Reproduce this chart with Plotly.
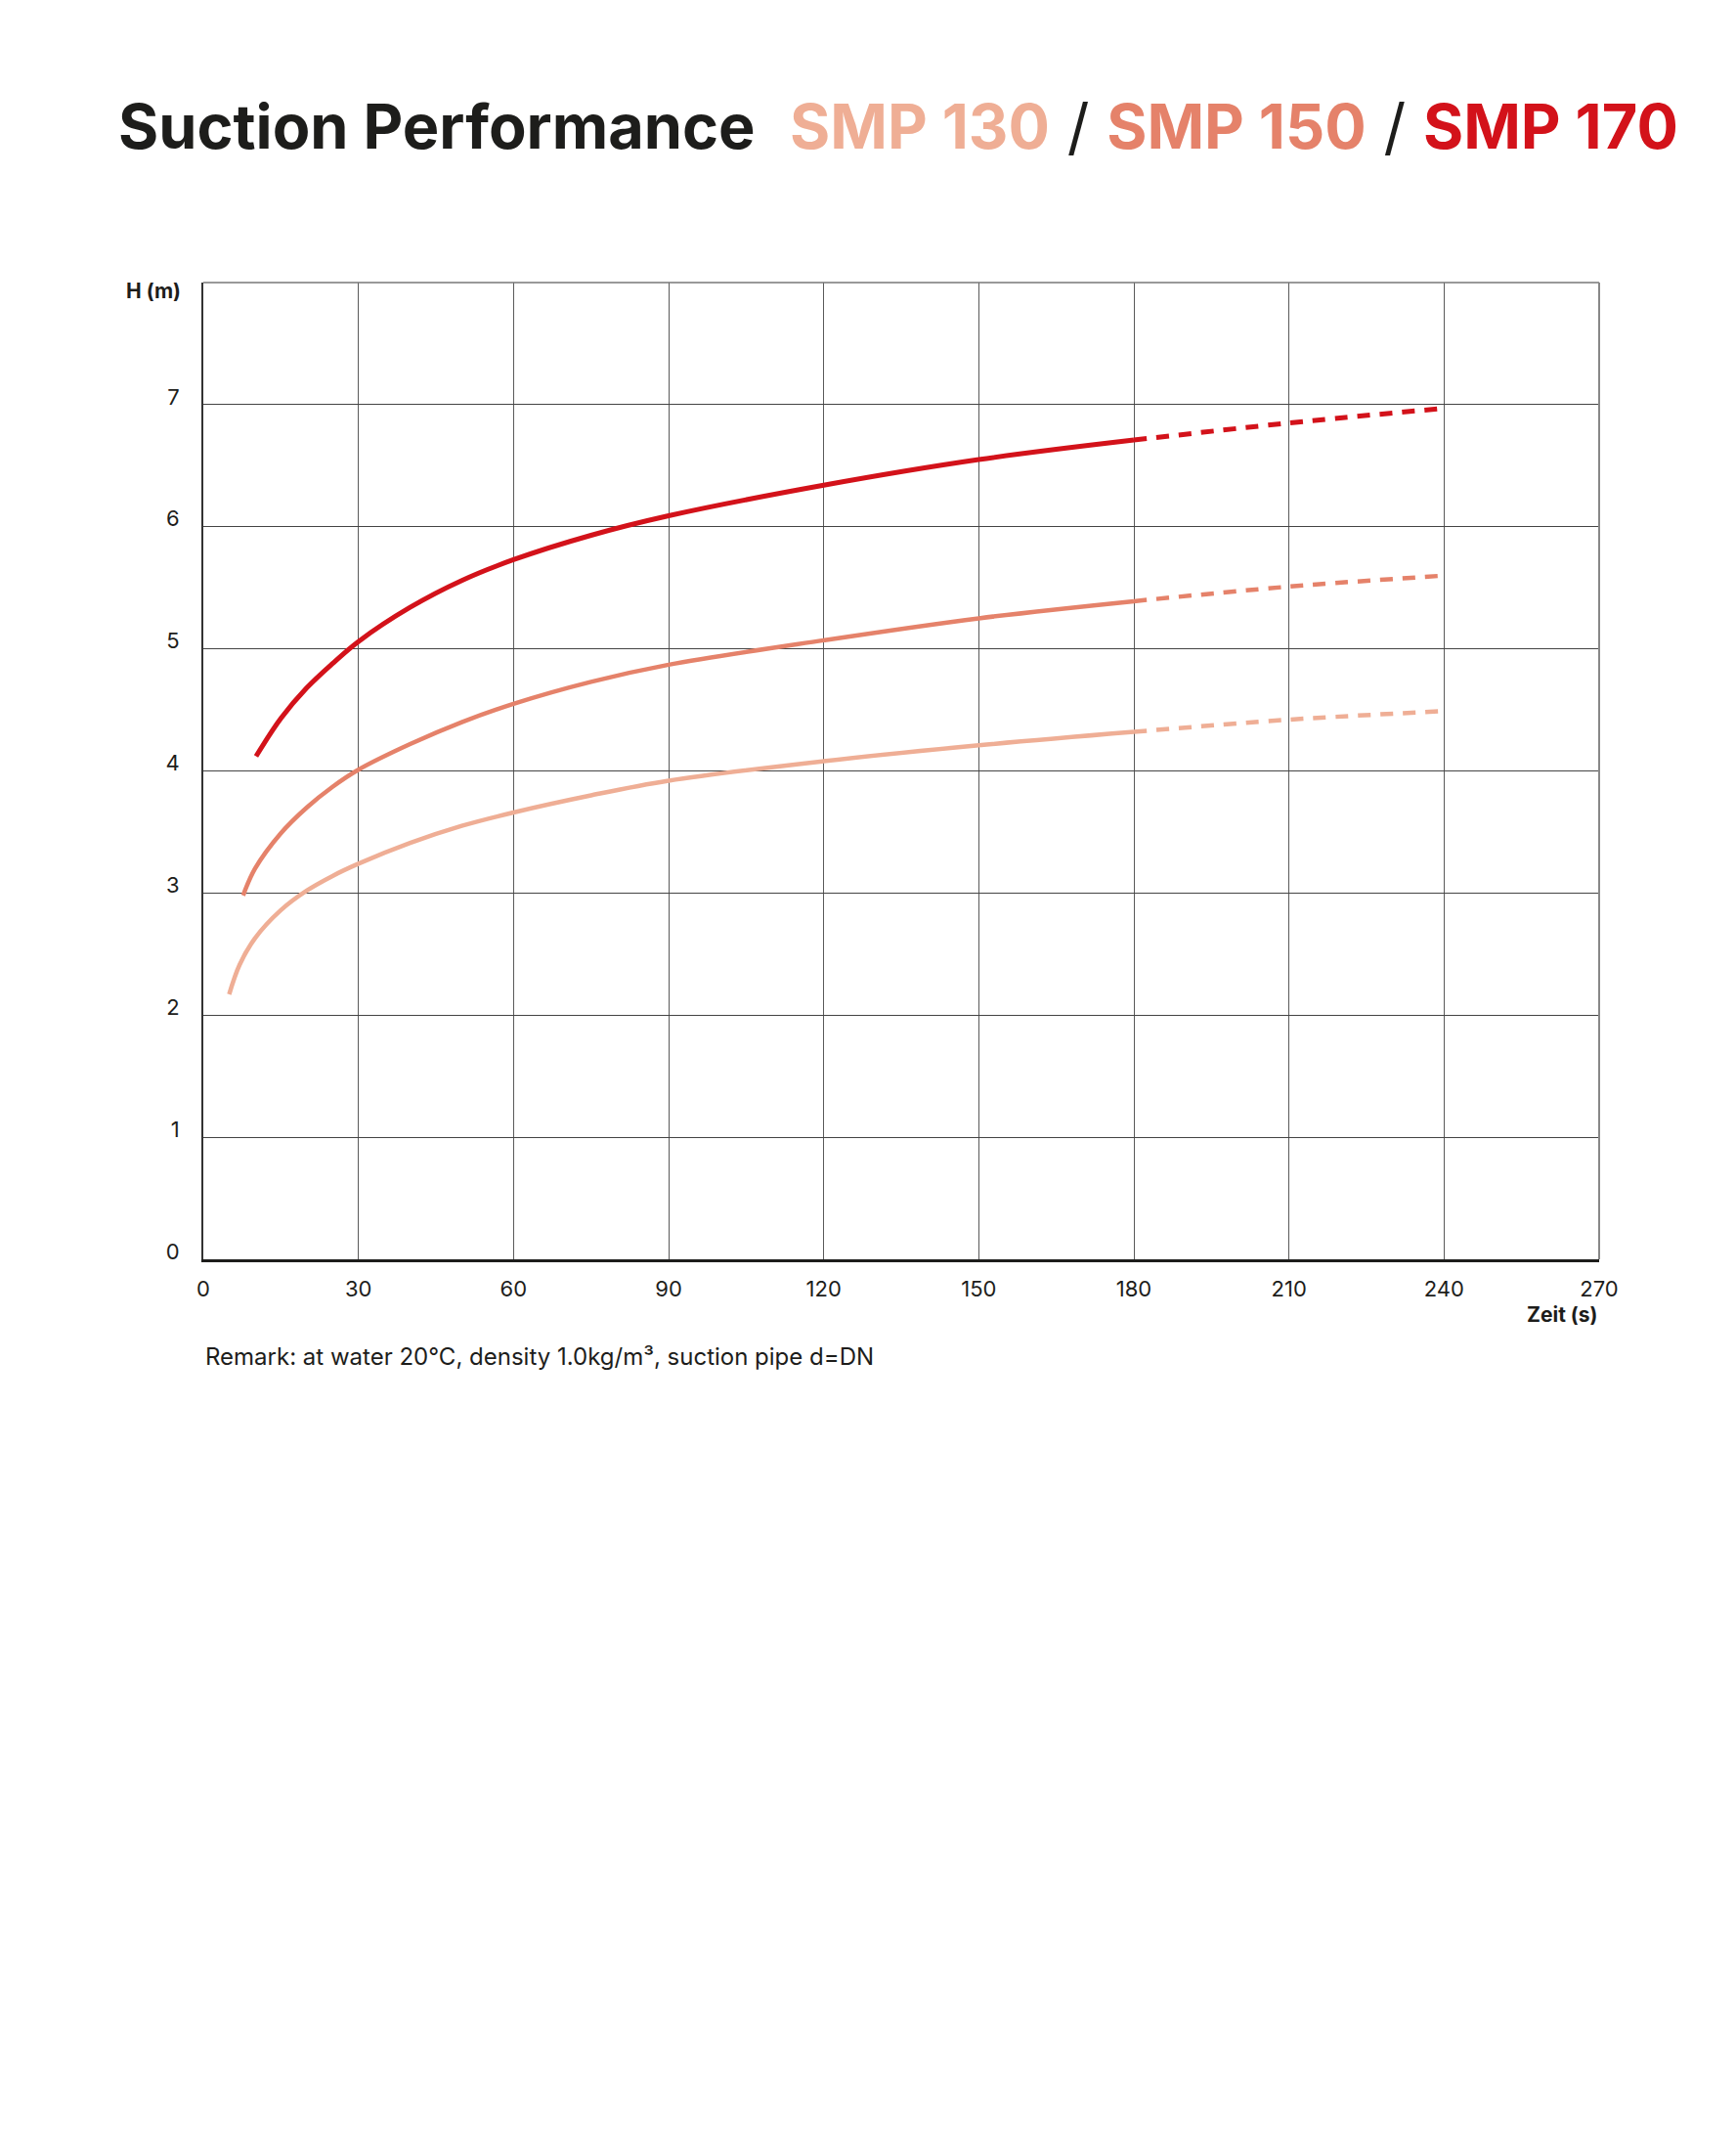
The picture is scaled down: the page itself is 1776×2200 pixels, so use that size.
import plotly.graph_objects as go

# values: head H (m) over time (s)
t_130 = [5.0, 7, 10, 15, 20, 25, 30, 40, 50, 60, 75, 90, 120, 150, 180]
h_130 = [2.17, 2.41, 2.63, 2.86, 3.02, 3.14, 3.24, 3.41, 3.55, 3.66, 3.80, 3.92, 4.08, 4.21, 4.32]
t_150 = [7.7, 10, 15, 20, 25, 30, 40, 50, 60, 75, 90, 120, 150, 180]
h_150 = [2.98, 3.20, 3.49, 3.70, 3.87, 4.01, 4.22, 4.40, 4.55, 4.73, 4.87, 5.07, 5.25, 5.39]
t_170 = [10.2, 15, 20, 25, 30, 40, 50, 60, 75, 90, 120, 150, 180]
h_170 = [4.12, 4.43, 4.68, 4.88, 5.06, 5.34, 5.56, 5.73, 5.93, 6.09, 6.34, 6.55, 6.71]

# extrapolated part (dashed)
t_ext = [180, 210, 240]
h_130_ext = [4.32, 4.42, 4.49]
h_150_ext = [5.39, 5.51, 5.60]
h_170_ext = [6.71, 6.85, 6.97]

x_ticks = [0, 30, 60, 90, 120, 150, 180, 210, 240, 270]
y_ticks = [0, 1, 2, 3, 4, 5, 6, 7]

c130 = "#EFAE95"
c150 = "#E5826A"
c170 = "#D3121A"
dark = "#1d1d1b"
font = "Inter"

fig = go.Figure()

series = [
    (t_130, h_130, h_130_ext, c130, 4.5),
    (t_150, h_150, h_150_ext, c150, 4.5),
    (t_170, h_170, h_170_ext, c170, 5),
]
for t, h, h_ext, col, w in series:
    fig.add_trace(go.Scatter(x=t, y=h, mode="lines",
                             line=dict(color=col, width=w, shape="spline", smoothing=1),
                             showlegend=False, hoverinfo="skip"))
    fig.add_trace(go.Scatter(x=t_ext, y=h_ext, mode="lines",
                             line=dict(color=col, width=w, dash="13px,10px", shape="spline"),
                             showlegend=False, hoverinfo="skip"))

title = (
    f"<b>Suction Performance</b>  "
    f"<b><span style='color:{c130}'>SMP 130</span></b> / "
    f"<b><span style='color:{c150}'>SMP 150</span></b> / "
    f"<b><span style='color:{c170}'>SMP 170</span></b>"
)

# page body adds 8px offset, margins compensate for it
fig.update_layout(
    width=1776, height=2200,
    margin=dict(l=200, r=148, t=281, b=920),
    paper_bgcolor="white", plot_bgcolor="white",
    font=dict(family=font, color=dark, size=22),
    title=dict(text=title, x=113 / 1776, xanchor="left",
               y=1 - 122 / 2200, yanchor="middle",
               font=dict(family=font, size=63, color=dark)),
)

fig.update_xaxes(
    range=[0, 270], tickvals=x_ticks, ticks="",
    showgrid=True, gridcolor="#5a5a5a", gridwidth=1.3,
    showline=True, linecolor=dark, linewidth=3, zeroline=False,
    ticklabelstandoff=9, tickfont=dict(size=22, color=dark),
)
fig.update_yaxes(
    range=[0, 8], tickvals=y_ticks, ticks="",
    showgrid=True, gridcolor="#444444", gridwidth=1.3,
    showline=True, linecolor="#333333", linewidth=2, zeroline=False,
    ticklabelstandoff=18, ticklabelshift=-8, tickfont=dict(size=22, color=dark),
)

# top and right frame lines
fig.add_shape(type="line", xref="paper", yref="paper", x0=0, x1=1, y0=1, y1=1,
              line=dict(color="#777777", width=1.5))
fig.add_shape(type="line", xref="paper", yref="paper", x0=1, x1=1, y0=0, y1=1,
              line=dict(color="#888888", width=2))

fig.add_annotation(text="<b>H (m)</b>", xref="paper", yref="paper",
                   x=-0.0147, y=0.9916, xanchor="right", yanchor="middle",
                   showarrow=False, font=dict(size=21, color=dark))
fig.add_annotation(text="<b>Zeit (s)</b>", xref="paper", yref="paper",
                   x=1, y=-0.057, xanchor="right", yanchor="middle",
                   showarrow=False, font=dict(size=21, color=dark))
fig.add_annotation(text="Remark: at water 20°C, density 1.0kg/m³, suction pipe d=DN",
                   xref="paper", yref="paper", x=0, y=-0.0997,
                   xanchor="left", yanchor="middle", showarrow=False,
                   font=dict(size=24, color=dark))

fig.write_html("out.html")
